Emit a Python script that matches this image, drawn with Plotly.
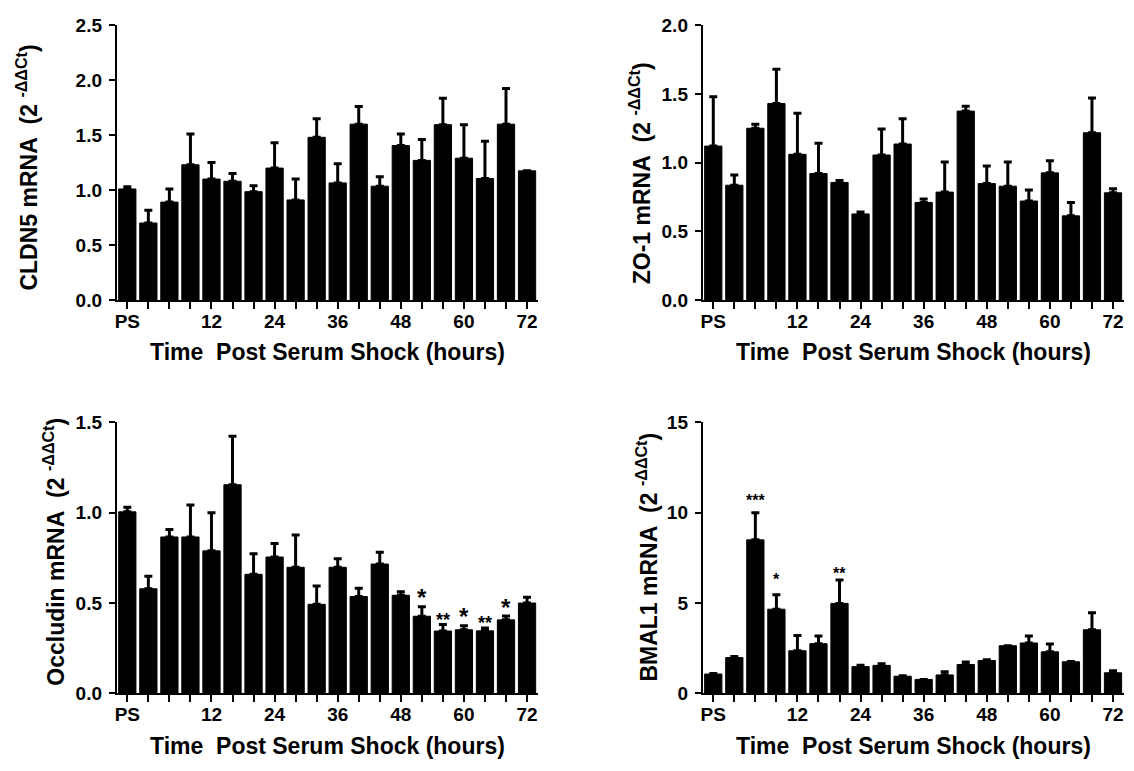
import plotly.graph_objects as go

W, H = 1134, 771

# ---------------- data ----------------
time_points = ["PS", "0", "4", "8", "12", "16", "20", "24", "28", "32", "36",
               "40", "44", "48", "52", "56", "60", "64", "68", "72"]
tick_text = ["PS", "", "", "", "12", "", "", "24", "", "", "36",
             "", "", "48", "", "", "60", "", "", "72"]

cldn5_mean = [1.01, 0.70, 0.89, 1.23, 1.10, 1.08, 0.985, 1.20, 0.91, 1.48,
              1.065, 1.60, 1.035, 1.405, 1.27, 1.595, 1.29, 1.105, 1.60, 1.175]
cldn5_sem = [0.02, 0.115, 0.12, 0.28, 0.15, 0.07, 0.055, 0.23, 0.19, 0.17,
             0.175, 0.16, 0.085, 0.105, 0.19, 0.24, 0.305, 0.34, 0.325, 0.0]

zo1_mean = [1.12, 0.835, 1.25, 1.43, 1.06, 0.92, 0.855, 0.626, 1.055, 1.135,
            0.71, 0.785, 1.375, 0.847, 0.828, 0.72, 0.925, 0.612, 1.217, 0.78]
zo1_sem = [0.36, 0.075, 0.03, 0.25, 0.30, 0.22, 0.015, 0.014, 0.19, 0.185,
           0.025, 0.22, 0.035, 0.128, 0.177, 0.08, 0.088, 0.098, 0.253, 0.03]

occludin_mean = [1.005, 0.579, 0.866, 0.866, 0.789, 1.155, 0.659, 0.755, 0.698, 0.493,
                 0.698, 0.536, 0.716, 0.543, 0.427, 0.345, 0.352, 0.346, 0.407, 0.50]
occludin_sem = [0.025, 0.069, 0.041, 0.177, 0.211, 0.268, 0.114, 0.075, 0.179, 0.102,
                0.047, 0.046, 0.066, 0.02, 0.053, 0.036, 0.023, 0.016, 0.021, 0.032]
occludin_stars = [(14, "*"), (15, "**"), (16, "*"), (17, "**"), (18, "*")]

bmal1_mean = [1.07, 1.98, 8.5, 4.66, 2.36, 2.75, 4.98, 1.48, 1.55, 0.95,
              0.77, 1.02, 1.6, 1.82, 2.64, 2.79, 2.30, 1.75, 3.52, 1.14]
bmal1_sem = [0.03, 0.06, 1.5, 0.8, 0.85, 0.43, 1.29, 0.07, 0.09, 0.03,
             0.0, 0.18, 0.13, 0.04, 0.0, 0.39, 0.43, 0.02, 0.94, 0.11]
bmal1_stars = [(2, "***"), (3, "*"), (6, "**")]

FONT = "Liberation Sans, Arial, Helvetica, sans-serif"


def px_x(p):
    return p / W


def px_y(p):
    return 1 - p / H


panels = [
    dict(mean=cldn5_mean, sem=cldn5_sem, ymax=2.5, dtick=0.5, fmt=".1f",
         name="CLDN5 mRNA", xd=(115, 536.5), yd=(15.7, 298),
         ytitle=(25, 162), xtitle=(325.8, 352), stars=[]),
    dict(mean=zo1_mean, sem=zo1_sem, ymax=2.0, dtick=0.5, fmt=".1f",
         name="ZO-1 mRNA", xd=(702, 1123.5), yd=(15.7, 298),
         ytitle=(640, 168), xtitle=(912.8, 352), stars=[]),
    dict(mean=occludin_mean, sem=occludin_sem, ymax=1.5, dtick=0.5, fmt=".1f",
         name="Occludin mRNA", xd=(115, 536.5), yd=(424, 702.5),
         ytitle=(52, 557), xtitle=(325.8, 757), stars=occludin_stars),
    dict(mean=bmal1_mean, sem=bmal1_sem, ymax=15, dtick=5, fmt="d",
         name="BMAL1 mRNA", xd=(702, 1123.5), yd=(424, 702.5),
         ytitle=(646, 562), xtitle=(912.8, 757), stars=bmal1_stars),
]

# star styling: (font size, pixel shift above the error-bar cap)
star_style_occ = {"*": (24, 9), "**": (18, 5)}
star_style_bmal = {"***": (16, 12), "*": (16, 15), "**": (16, 7)}

fig = go.Figure()
idx = list(range(len(time_points)))
annotations = []

for k, p in enumerate(panels):
    n = "" if k == 0 else str(k + 1)
    fig.add_trace(go.Bar(
        x=idx, y=p["mean"], width=0.82,
        marker=dict(color="black", line=dict(color="black", width=1)),
        error_y=dict(type="data", array=p["sem"], arrayminus=[0] * len(idx),
                     symmetric=False, color="black", thickness=3, width=4),
        xaxis="x" + n, yaxis="y" + n, showlegend=False,
        hovertext=time_points,
    ))
    axis_common = dict(showline=True, linewidth=2, linecolor="black",
                       ticks="outside", tickwidth=2, tickcolor="black",
                       showgrid=False, zeroline=False,
                       tickfont=dict(family=FONT, size=19, color="black", weight="bold"))
    fig.layout["xaxis" + n] = dict(
        domain=[px_x(p["xd"][0]), px_x(p["xd"][1])], range=[-0.5, 19.5],
        tickmode="array", tickvals=idx, ticktext=tick_text, ticklen=7,
        ticklabelstandoff=-4, anchor="y" + n, **axis_common)
    fig.layout["yaxis" + n] = dict(
        domain=[px_y(p["yd"][1]), px_y(p["yd"][0])], range=[0, p["ymax"]],
        dtick=p["dtick"], tickformat=p["fmt"], ticklen=6, ticklabelstandoff=3,
        anchor="x" + n, **axis_common)

    annotations.append(dict(
        xref="paper", yref="paper", x=px_x(p["ytitle"][0]), y=px_y(p["ytitle"][1]),
        text=p["name"] + "\u00a0 (2 <sup>-\u0394\u0394Ct</sup>)", textangle=-90,
        showarrow=False, xanchor="center", yanchor="middle",
        font=dict(family=FONT, size=23, color="black", weight="bold")))
    annotations.append(dict(
        xref="paper", yref="paper", x=px_x(p["xtitle"][0]), y=px_y(p["xtitle"][1]),
        text="Time\u00a0 Post Serum Shock (hours)", showarrow=False,
        xanchor="center", yanchor="middle",
        font=dict(family=FONT, size=23, color="black", weight="bold")))

    style = star_style_occ if k == 2 else star_style_bmal
    for i, lab in p["stars"]:
        fs, shift = style[lab]
        annotations.append(dict(
            xref="x" + n, yref="y" + n, x=i, y=p["mean"][i] + p["sem"][i],
            text=lab, showarrow=False, xanchor="center", yanchor="middle",
            yshift=shift, font=dict(family=FONT, size=fs, color="black", weight="bold")))

fig.update_layout(
    width=W, height=H, margin=dict(l=0, r=0, t=0, b=0),
    paper_bgcolor="white", plot_bgcolor="white",
    annotations=annotations,
)

fig.write_html("out.html", config={"displayModeBar": False},
               post_script="document.body.style.margin='0';document.body.style.overflow='hidden';")
